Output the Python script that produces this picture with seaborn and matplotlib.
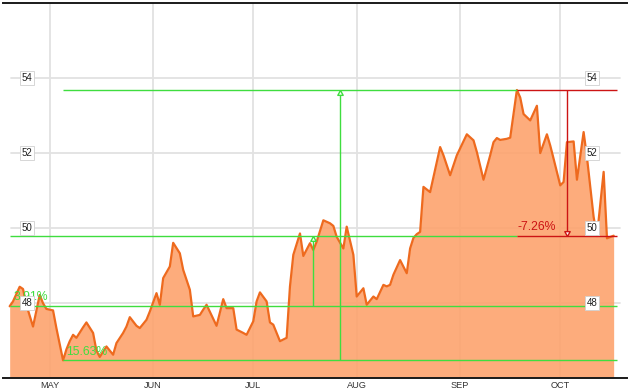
import matplotlib
matplotlib.use("Agg")
import matplotlib.pyplot as plt
import matplotlib.transforms as mtransforms
import seaborn as sns
import pandas as pd

# ---------------- data ----------------
dates = [
    "2012-04-19", "2012-04-20", "2012-04-22", "2012-04-23", "2012-04-24", "2012-04-26",
    "2012-04-28", "2012-04-29", "2012-04-30", "2012-05-02", "2012-05-03", "2012-05-05",
    "2012-05-06", "2012-05-07", "2012-05-08", "2012-05-09", "2012-05-11", "2012-05-12",
    "2012-05-14", "2012-05-15", "2012-05-16", "2012-05-18", "2012-05-20", "2012-05-21",
    "2012-05-23", "2012-05-24", "2012-05-25", "2012-05-27", "2012-05-28", "2012-05-30",
    "2012-05-31", "2012-06-02", "2012-06-03", "2012-06-04", "2012-06-06", "2012-06-07",
    "2012-06-09", "2012-06-10", "2012-06-12", "2012-06-13", "2012-06-15", "2012-06-16",
    "2012-06-17", "2012-06-20", "2012-06-22", "2012-06-23", "2012-06-25", "2012-06-26",
    "2012-06-28", "2012-06-29", "2012-07-01", "2012-07-02", "2012-07-03", "2012-07-05",
    "2012-07-06", "2012-07-07", "2012-07-08", "2012-07-09", "2012-07-11", "2012-07-12",
    "2012-07-13", "2012-07-15", "2012-07-16", "2012-07-18", "2012-07-19", "2012-07-20",
    "2012-07-22", "2012-07-24", "2012-07-25", "2012-07-26", "2012-07-28", "2012-07-29",
    "2012-07-31", "2012-08-01", "2012-08-03", "2012-08-04", "2012-08-06", "2012-08-07",
    "2012-08-09", "2012-08-10", "2012-08-11", "2012-08-12", "2012-08-14", "2012-08-16",
    "2012-08-17", "2012-08-18", "2012-08-19", "2012-08-20", "2012-08-21", "2012-08-23",
    "2012-08-26", "2012-08-27", "2012-08-29", "2012-08-31", "2012-09-03", "2012-09-05",
    "2012-09-06", "2012-09-08", "2012-09-10", "2012-09-11", "2012-09-12", "2012-09-13",
    "2012-09-15", "2012-09-16", "2012-09-18", "2012-09-19", "2012-09-20", "2012-09-22",
    "2012-09-24", "2012-09-25", "2012-09-27", "2012-09-28", "2012-09-29", "2012-10-01",
    "2012-10-02", "2012-10-03", "2012-10-05", "2012-10-06", "2012-10-08", "2012-10-09",
    "2012-10-11", "2012-10-12", "2012-10-14", "2012-10-15", "2012-10-17",
]
prices = [
    47.91, 48.04, 48.43, 48.37, 47.95, 47.37,
    48.21, 47.99, 47.84, 47.80, 47.33, 46.47,
    46.76, 46.98, 47.15, 47.07, 47.35, 47.48,
    47.20, 46.73, 46.56, 46.84, 46.62, 46.93,
    47.20, 47.37, 47.62, 47.39, 47.33, 47.55,
    47.77, 48.26, 47.95, 48.66, 48.97, 49.60,
    49.32, 48.88, 48.35, 47.64, 47.68, 47.82,
    47.95, 47.39, 48.10, 47.86, 47.86, 47.29,
    47.20, 47.15, 47.51, 48.04, 48.28, 48.04,
    47.48, 47.42, 47.20, 46.98, 47.07, 48.44,
    49.28, 49.85, 49.25, 49.59, 49.41, 49.63,
    50.20, 50.12, 50.05, 49.76, 49.45, 50.03,
    49.28, 48.17, 48.39, 47.95, 48.17, 48.10,
    48.48, 48.44, 48.48, 48.75, 49.14, 48.79,
    49.45, 49.73, 49.83, 49.89, 51.09, 50.95,
    52.15, 51.93, 51.40, 51.93, 52.49, 52.33,
    52.02, 51.28, 51.93, 52.28, 52.39, 52.34,
    52.37, 52.40, 53.67, 53.47, 53.03, 52.86,
    53.25, 51.99, 52.49, 52.19, 51.84, 51.13,
    51.22, 52.28, 52.30, 51.28, 52.55, 51.88,
    50.29, 49.78, 51.49, 49.72, 49.79,
]
month_starts = ["2012-05-01", "2012-06-01", "2012-07-01", "2012-08-01", "2012-09-01", "2012-10-01"]
month_labels = ["MAY", "JUN", "JUL", "AUG", "SEP", "OCT"]
price_ticks = [48, 50, 52, 54]
pct_labels = ["3.91%", "15.63%", "-7.26%"]   # change start->end, low->high, high->end

# ---------------- style ----------------
sns.set_style("white")
plt.rcParams["font.family"] = ["Liberation Sans", "DejaVu Sans"]

LINE = "#EE6A1E"
FILL = "#FDA36E"
GREEN = "#3FDD3F"
RED = "#CC1414"
GRID = "#E2E2E2"

df = pd.DataFrame({"date": pd.to_datetime(dates), "price": prices})

fig = plt.figure(figsize=(6.29, 3.92), dpi=100)
ax = fig.add_axes([3 / 629, 14 / 392, 624 / 629, 375.5 / 392])

ax.set_xlim(pd.Timestamp("2012-04-17"), pd.Timestamp("2012-10-21"))
ax.set_ylim(46, 56)

# gridlines
for m in pd.to_datetime(month_starts):
    ax.axvline(m, color=GRID, lw=1.3, zorder=0.5)
for p in price_ticks:
    ax.axhline(p, xmin=8 / 624, xmax=617 / 624, color=GRID, lw=1.3, zorder=0.5)

# area + line
ax.fill_between(df["date"], df["price"], 46, color=FILL, alpha=0.9, lw=0, zorder=1)
sns.lineplot(data=df, x="date", y="price", color=LINE, lw=1.6, ax=ax, zorder=3)

# reference levels
first_d, last_d = df["date"].iloc[0], df["date"].iloc[-1]
first_p, last_p = df["price"].iloc[0], df["price"].iloc[-1]
lo_i, hi_i = df["price"].idxmin(), df["price"].idxmax()
lo_d, lo_p = df["date"][lo_i], df["price"][lo_i]
hi_d, hi_p = df["date"][hi_i], df["price"][hi_i]
end_d = last_d + pd.Timedelta(days=1)

lw_ref = 1.0
ax.hlines(first_p, first_d, end_d, color=GREEN, lw=lw_ref, zorder=4)
ax.hlines(last_p, first_d, hi_d, color=GREEN, lw=lw_ref, zorder=4)
ax.hlines(last_p, hi_d, end_d, color=RED, lw=lw_ref, zorder=4)
ax.hlines(hi_p, lo_d, hi_d, color=GREEN, lw=lw_ref, zorder=4)
ax.hlines(hi_p, hi_d, end_d, color=RED, lw=lw_ref, zorder=4)
ax.hlines(lo_p, lo_d, end_d, color=GREEN, lw=lw_ref, zorder=4)

def mid(a, b):
    return a + (b - a) / 2

up = [(0, 0), (-0.55, -1), (0.55, -1), (0, 0)]
down = [(0, 0), (-0.55, 1), (0.55, 1), (0, 0)]

x1 = mid(first_d, end_d)
ax.vlines(x1, first_p, last_p, color=GREEN, lw=lw_ref, zorder=4)
ax.plot([x1], [last_p], marker=up, ms=7, mfc="white", mec=GREEN, mew=1.0, zorder=5)

x2 = mid(lo_d, end_d)
ax.vlines(x2, lo_p, hi_p, color=GREEN, lw=lw_ref, zorder=4)
ax.plot([x2], [hi_p], marker=up, ms=7, mfc="white", mec=GREEN, mew=1.0, zorder=5)

x3 = mid(hi_d, end_d)
ax.vlines(x3, hi_p, last_p, color=RED, lw=lw_ref, zorder=4)
ax.plot([x3], [last_p], marker=down, ms=7, mfc="white", mec=RED, mew=1.0, zorder=5)

# percentage labels
pct_kw = dict(textcoords="offset points", fontsize=8.8, va="baseline", ha="left", zorder=5)
ax.annotate(pct_labels[0], (first_d, first_p), xytext=(2.5, 4.4), color=GREEN, **pct_kw)
ax.annotate(pct_labels[1], (lo_d, lo_p), xytext=(2.2, 3.6), color=GREEN, **pct_kw)
ax.annotate(pct_labels[2], (hi_d, last_p), xytext=(0.5, 4.4), color=RED, **pct_kw)

# boxed price labels (left and right)
trans = mtransforms.blended_transform_factory(ax.transAxes, ax.transData)
box = dict(boxstyle="square,pad=0.2", fc="white", ec="#D0D0D0", lw=0.6)
for p in price_ticks:
    for xf in (24 / 624, 589 / 624):
        ax.text(xf, p, f"{p}", transform=trans, ha="center", va="center",
                fontsize=7, color="#222222", bbox=box, zorder=6)

# month labels
trans_x = mtransforms.blended_transform_factory(ax.transData, ax.transAxes)
for m, lab in zip(pd.to_datetime(month_starts), month_labels):
    ax.text(m, -7.7 / 375.5, lab, transform=trans_x, ha="center", va="center",
            fontsize=6.6, color="#333333")

ax.set_xticks([])
ax.set_yticks([])
ax.set_xlabel("")
ax.set_ylabel("")
for s in ("left", "right"):
    ax.spines[s].set_visible(False)
for s in ("top", "bottom"):
    ax.spines[s].set_color("#1A1A1A")
    ax.spines[s].set_linewidth(1.4)

fig.savefig("out.png", dpi=100)
